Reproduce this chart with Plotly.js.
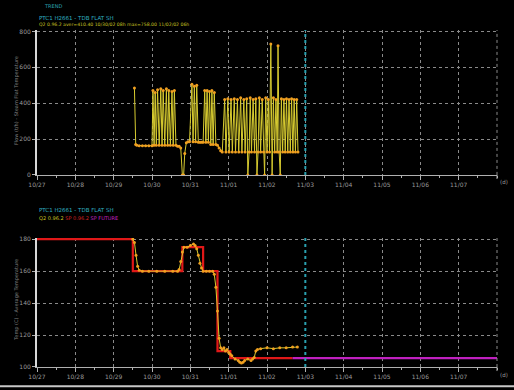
<!DOCTYPE html>
<html>
<head>
<meta charset="utf-8">
<script src="https://cdn.plot.ly/plotly-3.0.1.min.js"></script>
<style>
  html, body { margin: 0; padding: 0; background: #000; }
  #chart { width: 514px; height: 390px; }
</style>
</head>
<body>
<div id="chart"></div>
<script>
// Trend start: all series are given as hours after 2002-10-27 00:00
const baseDate = Date.UTC(2002, 9, 27);

// Upper panel: flat steam temperature samples
const flowHours = [61, 61.8, 62.5, 64, 66, 68, 70, 72, 72.6, 73.3, 74, 74.7, 75.5, 76.5, 77.5, 78.3, 79, 80, 81, 81.8,
  82.5, 83.5, 84.5, 85.3, 86, 87, 88, 89, 90, 91, 91.8, 92.5, 93.5, 94.5, 95.5, 97, 97.7, 98.5, 99.3, 100,
  101, 102, 103, 104, 105, 105.7, 106.5, 107.3, 108, 108.8, 109.5, 110.3, 111, 112, 113, 114, 115, 116, 117.5, 118.3,
  119.5, 120.3, 121.5, 122.3, 123.5, 124.3, 125.5, 126.3, 127.5, 128.3, 129.5, 130.3, 131.3, 132, 132.8, 133.5, 134.3, 135.3, 136.2, 137,
  137.7, 138.4, 139.2, 140, 141, 141.8, 142.5, 143.2, 144, 144.8, 145.6, 146.4, 147.2, 148, 148.8, 149.6, 150.4, 150.9, 151.6, 152.3,
  153, 153.8, 154.6, 155.4, 156.2, 157, 157.8, 158.6, 159.4, 160.2, 161, 161.8, 162.6, 163.4];
const flowValues = [485, 170, 165, 163, 163, 163, 163, 163, 470, 165, 460, 165, 475, 165, 480, 165, 470, 165, 480, 165,
  470, 165, 465, 165, 470, 165, 160, 160, 150, 0, 0, 120, 180, 185, 185, 505, 185, 495, 185, 500,
  182, 182, 182, 182, 470, 182, 470, 182, 465, 170, 470, 170, 460, 170, 165, 150, 135, 128, 420, 128,
  425, 128, 420, 128, 425, 128, 420, 128, 430, 128, 420, 128, 425, 0, 128, 430, 128, 420, 128, 425,
  0, 128, 430, 128, 420, 128, 0, 430, 128, 420, 128, 730, 0, 430, 128, 420, 128, 720, 128, 0,
  425, 128, 420, 128, 425, 128, 420, 128, 425, 128, 420, 128, 420, 128];

// Lower panel: measured value, setpoint and future setpoint
const pvHours = [60, 61, 62, 63, 64, 66, 70, 75, 80, 85, 88, 89, 90, 91, 92, 94, 96, 98, 99, 100,
  101, 102, 103, 104, 106, 108, 110, 111, 112, 113, 114, 115, 116, 117, 118, 119, 120, 121, 122, 124,
  126, 127, 128, 129, 130, 132, 134, 135, 136, 137, 138, 140, 144, 148, 152, 156, 160, 163];
const pvValues = [180, 178, 170, 163, 160.5, 160, 160, 160, 160, 160, 160, 161, 166, 172, 175, 175, 176, 177, 176, 174,
  170, 165, 162, 160, 160, 160, 160, 158, 150, 135, 118, 112, 111, 112, 110, 111, 109, 108, 107, 105,
  104, 103, 102.5, 103, 104, 105, 104, 105, 106, 110, 111, 111.5, 112, 111.5, 112, 112, 112.5, 112.5];
const spHours = [0, 60, 60, 91, 91, 104, 104, 113, 113, 121, 121, 160];
const spValues = [180, 180, 160, 160, 175, 175, 160, 160, 110, 110, 105.5, 105.5];
const futureHours = [160, 288];
const futureValues = [105.5, 105.5];

const nowHour = 168;
// labelled days: 10/27 .. 11/07 (day offsets from the start)
const dayTicks = [0, 1, 2, 3, 4, 5, 6, 7, 8, 9, 10, 11];
const flowTicks = [0, 200, 400, 600, 800];
const tempTicks = [100, 120, 140, 160, 180];

function toDate(h) {
  const d = new Date(baseDate + Math.round(h * 60) * 60000);
  const p = n => String(n).padStart(2, '0');
  return d.getUTCFullYear() + '-' + p(d.getUTCMonth() + 1) + '-' + p(d.getUTCDate()) + ' ' +
    p(d.getUTCHours()) + ':' + p(d.getUTCMinutes());
}

const yellow = '#d8cc30';
const orange = '#f0a020';
const grey = '#9a9a9a';
const gridGrey = '#8a8a8a';

const traces = [
  {
    x: flowHours.map(toDate), y: flowValues, xaxis: 'x', yaxis: 'y',
    mode: 'lines+markers', line: { color: yellow, width: 1 },
    marker: { color: orange, size: 3 }
  },
  {
    x: spHours.map(toDate), y: spValues, xaxis: 'x2', yaxis: 'y2',
    mode: 'lines', line: { color: '#e01818', width: 2.2 }
  },
  {
    x: futureHours.map(toDate), y: futureValues, xaxis: 'x2', yaxis: 'y2',
    mode: 'lines', line: { color: '#c020c0', width: 2.2 }
  },
  {
    x: pvHours.map(toDate), y: pvValues, xaxis: 'x2', yaxis: 'y2',
    mode: 'lines+markers', line: { color: yellow, width: 1 },
    marker: { color: orange, size: 3 }
  }
];

const xRange = [toDate(0), toDate(288)];
const xCommon = {
  type: 'date', range: xRange, tickformat: '%m/%d',
  tickmode: 'array', tickvals: dayTicks.map(d => toDate(d * 24)),
  showgrid: true, gridcolor: gridGrey, griddash: 'dot', gridwidth: 1,
  showline: true, linecolor: '#b0b0b0', linewidth: 1,
  ticks: 'outside', ticklen: 4, tickcolor: '#b0b0b0',
  minor: { dtick: 43200000, tick0: toDate(0), ticks: 'outside', ticklen: 2, tickcolor: '#b0b0b0', showgrid: false },
  tickfont: { family: 'DejaVu Sans', size: 6, color: grey },
  zeroline: false, fixedrange: true
};
const yCommon = {
  showgrid: true, gridcolor: gridGrey, griddash: 'dot', gridwidth: 1,
  showline: true, linecolor: '#d8d8d8', linewidth: 2,
  ticks: 'outside', ticklen: 3, tickcolor: '#b0b0b0',
  tickfont: { family: 'DejaVu Sans', size: 6, color: grey },
  zeroline: false, fixedrange: true
};

const nowLine = (xr, yr) => ({
  type: 'line', xref: xr, yref: yr + ' domain', x0: toDate(nowHour), x1: toDate(nowHour), y0: 0, y1: 1,
  line: { color: '#2aa0b0', width: 2, dash: 'dot' }
});
// dotted closing gridline on the right edge of a panel, with its end tick
const edgeLine = (y0, y1) => ({
  type: 'line', xref: 'paper', yref: 'paper', x0: 1, x1: 1, y0: y0, y1: y1,
  line: { color: gridGrey, width: 1, dash: 'dot' }
});
const edgeTick = (y0) => ({
  type: 'line', xref: 'paper', yref: 'paper', x0: 1, x1: 1, y0: y0, y1: y0 - 0.012,
  line: { color: '#b0b0b0', width: 1 }
});

const small = (c, s) => ({ family: 'DejaVu Sans', size: s || 6, color: c });

const layout = {
  width: 514, height: 390,
  paper_bgcolor: '#000', plot_bgcolor: '#000',
  margin: { l: 37, r: 17, t: 30, b: 23 },
  showlegend: false,
  xaxis: Object.assign({}, xCommon, { anchor: 'y' }),
  yaxis: Object.assign({}, yCommon, { domain: [0.57, 1], range: [0, 808], tickvals: flowTicks }),
  xaxis2: Object.assign({}, xCommon, { anchor: 'y2' }),
  yaxis2: Object.assign({}, yCommon, { domain: [0, 0.383], range: [100, 180.8], tickvals: tempTicks }),
  shapes: [
    nowLine('x', 'y'),
    nowLine('x2', 'y2'),
    edgeLine(0.57, 1),
    edgeLine(0, 0.383),
    edgeTick(0.57),
    edgeTick(0),
    { type: 'line', xref: 'paper', yref: 'paper', x0: -0.09, x1: 1.05, y0: -0.057, y1: -0.057,
      line: { color: '#c8c8c8', width: 2 } }
  ],
  annotations: [
    { xref: 'paper', yref: 'paper', x: 0.01, y: 1.07, xanchor: 'left', yanchor: 'middle', showarrow: false,
      text: 'TREND', font: small('#2aa0b0', 5) },
    { xref: 'paper', yref: 'paper', x: 0, y: 1.035, xanchor: 'left', yanchor: 'middle', showarrow: false,
      text: 'PTC1 H2661 - TDB FLAT SH', font: small('#30b0c0', 5.5) },
    { xref: 'paper', yref: 'paper', x: 0, y: 1.015, xanchor: 'left', yanchor: 'middle', showarrow: false,
      text: 'Q2 0.96.2 aver=410.40 10/30/02 08h max=758.00 11/02/02 06h', font: small('#c8c020', 4.6) },
    { xref: 'paper', yref: 'paper', x: 0, y: 0.465, xanchor: 'left', yanchor: 'middle', showarrow: false,
      text: 'PTC1 H2661 - TDB FLAT SH', font: small('#30b0c0', 5.5) },
    { xref: 'paper', yref: 'paper', x: 0, y: 0.443, xanchor: 'left', yanchor: 'middle', showarrow: false,
      text: '<span style="color:#c8c020">Q2 0.96.2</span> <span style="color:#d02020">SP 0.96.2</span> <span style="color:#c020c0">SP FUTURE</span>',
      font: small('#c8c020', 5) },
    { xref: 'paper', yref: 'paper', x: 1.015, y: 0.548, xanchor: 'center', yanchor: 'middle', showarrow: false,
      text: '(d)', font: small(grey, 5.5) },
    { xref: 'paper', yref: 'paper', x: 1.015, y: -0.025, xanchor: 'center', yanchor: 'middle', showarrow: false,
      text: '(d)', font: small(grey, 5.5) },
    { xref: 'paper', yref: 'paper', x: -0.045, y: 0.79, xanchor: 'center', yanchor: 'middle', showarrow: false,
      textangle: -90, text: 'Flow (t/h) - Steam Flat Temperature', font: small('#808080', 5) },
    { xref: 'paper', yref: 'paper', x: -0.045, y: 0.2, xanchor: 'center', yanchor: 'middle', showarrow: false,
      textangle: -90, text: 'Temp (C) - Average Temperature', font: small('#808080', 5) }
  ]
};

Plotly.newPlot('chart', traces, layout, { staticPlot: true, displayModeBar: false });
</script>
</body>
</html>
